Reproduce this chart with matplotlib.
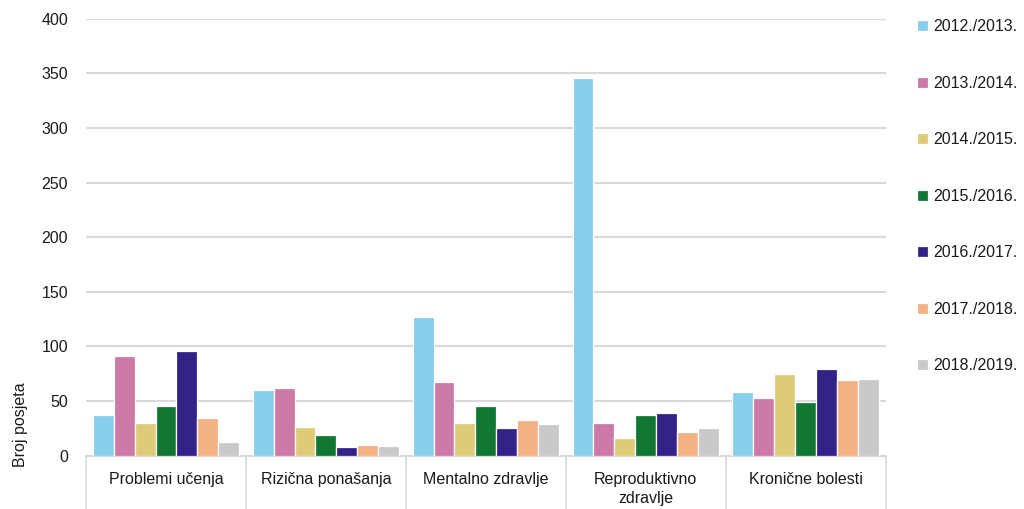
import numpy as np
import matplotlib
matplotlib.use('Agg')
import matplotlib.pyplot as plt

plt.rcParams['font.family'] = ['Liberation Sans', 'DejaVu Sans']

# podaci
kategorije = ['Problemi učenja', 'Rizična ponašanja', 'Mentalno zdravlje',
              'Reproduktivno\nzdravlje', 'Kronične bolesti']
godine = ['2012./2013.', '2013./2014.', '2014./2015.', '2015./2016.',
          '2016./2017.', '2017./2018.', '2018./2019.']
v_2012 = [37, 60, 127, 346, 58]
v_2013 = [91, 62, 67, 30, 53]
v_2014 = [30, 26, 30, 16, 75]
v_2015 = [45, 19, 45, 37, 49]
v_2016 = [96, 8, 25, 39, 79]
v_2017 = [34, 10, 33, 22, 69]
v_2018 = [12, 9, 29, 25, 70]
serije = [v_2012, v_2013, v_2014, v_2015, v_2016, v_2017, v_2018]
boje = ['#87CEEB', '#CC79A7', '#DDCC77', '#117733', '#332288', '#F4B183', '#C9C9C9']

fs = 11.5

fig = plt.figure(figsize=(10.24, 5.09), dpi=100)
ax = fig.add_axes([0.084, 0.105, 0.781, 0.858])

x = np.arange(len(kategorije))
korak = 0.131
for i, (vals, naziv) in enumerate(zip(serije, godine)):
    ax.bar(x + (i - 3) * korak, vals, width=korak, color=boje[i],
           edgecolor='white', linewidth=0.9, label=naziv, zorder=3)

ax.set_xlim(-0.5, len(kategorije) - 0.5)
ax.set_ylim(0, 400)
ax.set_yticks(range(0, 401, 50))
ax.grid(axis='y', color='#d9d9d9', linewidth=1.5, zorder=0)
for s in ['left', 'right', 'top']:
    ax.spines[s].set_visible(False)
ax.spines['bottom'].set_color('#d9d9d9')
ax.spines['bottom'].set_linewidth(1.5)

ax.set_xticks(x)
ax.set_xticklabels(kategorije, fontsize=fs, color='#1a1a1a', va='top', linespacing=1.3)
ax.tick_params(axis='x', which='major', length=0, pad=12)
ax.set_xticks(np.arange(-0.5, len(kategorije)), minor=True)
ax.tick_params(axis='x', which='minor', length=40, width=1.2, color='#d9d9d9')
ax.tick_params(axis='y', length=0, labelsize=fs, labelcolor='#1a1a1a', pad=13)

ax.set_ylabel('Broj posjeta', fontsize=fs, color='#1a1a1a')
ax.yaxis.set_label_coords(-0.073, 0.07)

fig.legend(loc='upper left', bbox_to_anchor=(0.888, 0.978), frameon=False,
           fontsize=fs, labelspacing=2.6, handlelength=0.7, handleheight=0.7,
           handletextpad=0.3, borderpad=0, labelcolor='#1a1a1a')

fig.savefig('out.png', dpi=100)
